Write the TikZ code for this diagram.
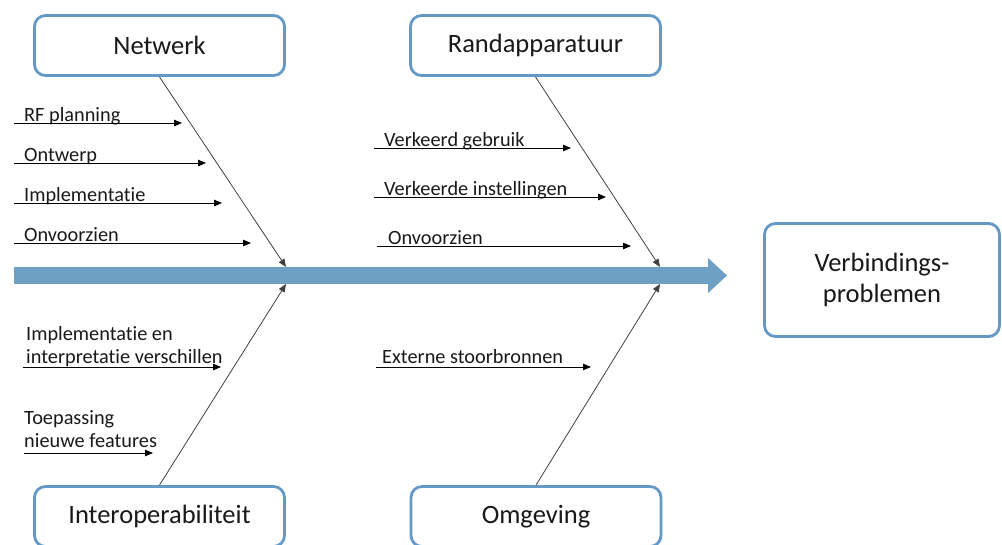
\documentclass[tikz,border=0pt]{standalone}
\usepackage{fontspec}
\setmainfont{Carlito}[Ligatures=NoCommon]
\usetikzlibrary{arrows.meta}

\definecolor{fishblue}{RGB}{100,153,199}
\definecolor{spineblue}{RGB}{110,160,195}
\definecolor{inkgray}{RGB}{25,25,25}

\tikzset{
  catbox/.style={draw=fishblue, line width=2.8pt, rounded corners=11pt, fill=white,
    minimum width=250pt, minimum height=60pt, inner sep=0pt, text=inkgray,
    font=\fontsize{26.5}{31}\selectfont},
  cause/.style={inner sep=0pt, anchor=base west, align=left, text=inkgray,
    font=\fontsize{20.3}{22.5}\selectfont},
  spine/.style={draw=spineblue, line width=17pt, -{Triangle[length=19pt, width=34pt]}},
  bone/.style={draw=black!75, line width=0.8pt, -{Triangle[length=8pt, width=6.5pt]}},
  twig/.style={draw=black, line width=0.8pt, -{Triangle[length=8pt, width=6.5pt]}}
}

\begin{document}
\begin{tikzpicture}[x=1pt, y=-1pt]
  \useasboundingbox (0,0) rectangle (1002,544);

  % categories and effect
  \node[catbox] (netwerk) at (159.5,45.5) {Netwerk};
  \node[catbox] (randapp) at (535.5,45.5) {Randapparatuur};
  \node[catbox] (interop) at (159.5,516.5) {Interoperabiliteit};
  \node[catbox] (omgeving) at (536,516.5) {Omgeving};
  \node[catbox, minimum width=235pt, minimum height=113pt, align=center] (effect) at (882,280) {Verbindings-\\problemen};

  % spine
  \coordinate (spinestart) at (14,275.5);
  \coordinate (spineend) at (727,275.5);
  \draw[spine] (spinestart) -- (spineend);

  % bones
  \coordinate (jnw) at (286,267);
  \coordinate (jra) at (660,267);
  \coordinate (jio) at (286,284);
  \coordinate (jom) at (660,284);
  \draw[bone] (netwerk.south) -- (jnw);
  \draw[bone] (randapp.south) -- (jra);
  \draw[bone] (interop.north) -- (jio);
  \draw[bone] (omgeving.north) -- (jom);

  % Netwerk causes
  \node[cause] (rf) at (24,121) {RF planning};
  \coordinate (rf-a) at (14,123); \coordinate (rf-b) at (182,123);
  \draw[twig] (rf-a) -- (rf-b);
  \node[cause] (ontwerp) at (24,161) {Ontwerp};
  \coordinate (ontwerp-a) at (14,163); \coordinate (ontwerp-b) at (206,163);
  \draw[twig] (ontwerp-a) -- (ontwerp-b);
  \node[cause] (impl) at (24,201) {Implementatie};
  \coordinate (impl-a) at (14,203); \coordinate (impl-b) at (222,203);
  \draw[twig] (impl-a) -- (impl-b);
  \node[cause] (onv1) at (24,241) {Onvoorzien};
  \coordinate (onv1-a) at (14,243); \coordinate (onv1-b) at (251,243);
  \draw[twig] (onv1-a) -- (onv1-b);

  % Randapparatuur causes
  \node[cause] (gebruik) at (384,146) {Verkeerd gebruik};
  \coordinate (gebruik-a) at (374,148); \coordinate (gebruik-b) at (571,148);
  \draw[twig] (gebruik-a) -- (gebruik-b);
  \node[cause] (instel) at (384,195) {Verkeerde instellingen};
  \coordinate (instel-a) at (374,197); \coordinate (instel-b) at (606,197);
  \draw[twig] (instel-a) -- (instel-b);
  \node[cause] (onv2) at (388,244) {Onvoorzien};
  \coordinate (onv2-a) at (377,246); \coordinate (onv2-b) at (631,246);
  \draw[twig] (onv2-a) -- (onv2-b);

  % Interoperabiliteit causes
  \node[cause] (verschil) at (26,363) {Implementatie en\\interpretatie verschillen};
  \coordinate (verschil-a) at (23,367); \coordinate (verschil-b) at (221,367);
  \draw[twig] (verschil-a) -- (verschil-b);
  \node[cause] (features) at (24,447) {Toepassing\\nieuwe features};
  \coordinate (features-a) at (24,453); \coordinate (features-b) at (153,453);
  \draw[twig] (features-a) -- (features-b);

  % Omgeving causes
  \node[cause] (stoor) at (382,363) {Externe stoorbronnen};
  \coordinate (stoor-a) at (376,367); \coordinate (stoor-b) at (591,367);
  \draw[twig] (stoor-a) -- (stoor-b);
\end{tikzpicture}
\end{document}
